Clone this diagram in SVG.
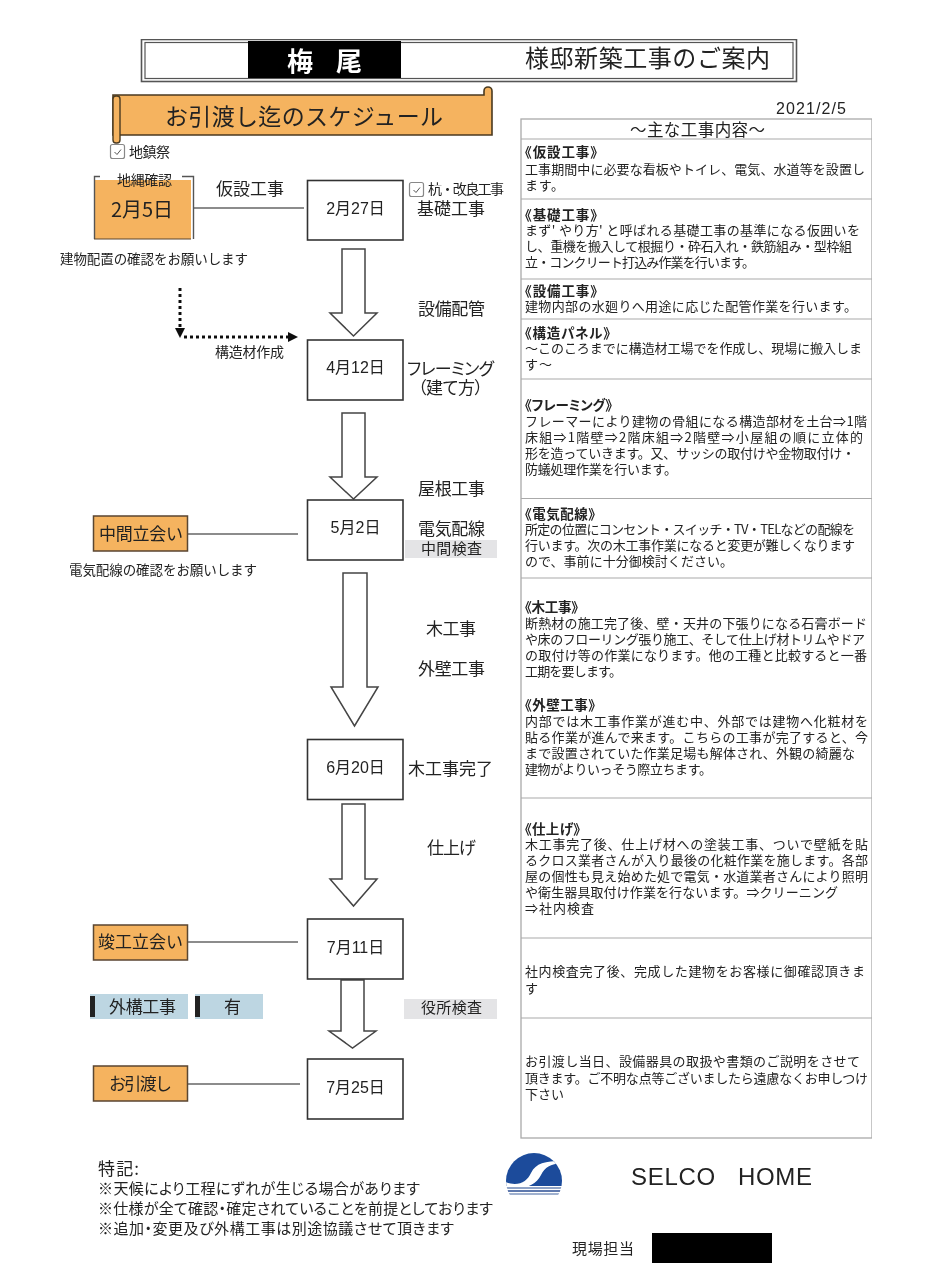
<svg xmlns="http://www.w3.org/2000/svg" width="925" height="1280" viewBox="0 0 925 1280">
<style>
text{font-family:"Noto Sans CJK JP","Noto Sans CJK SC",sans-serif;fill:#222;dominant-baseline:central;transform:translateY(-1.5px)}
.b{font-size:13px}
.h{font-size:13.5px;font-weight:700;font-feature-settings:"palt"}
.l{font-size:17px}
.p{font-size:17px;font-feature-settings:"palt"}
.s{font-size:14px}
.d{font-size:16px;font-family:"Liberation Sans","Noto Sans CJK JP",sans-serif;text-anchor:middle}
.f{font-size:15px;font-feature-settings:"palt"}
.box{fill:#fff;stroke:#333;stroke-width:1.6}
.org{fill:#F5B35E;stroke:#5a4630;stroke-width:1.5}
.arr{fill:#fff;stroke:#444;stroke-width:1.5}
.ln{stroke:#666;stroke-width:1.5;fill:none}
.dot{stroke:#111;stroke-width:3;stroke-dasharray:3 3;fill:none}
.row{stroke:#aaa;stroke-width:1.2}
.grey{fill:#E4E4E6}
.blue{fill:#BDD6E2}
.chk{fill:#fff;stroke:#888;stroke-width:1.2}
</style>
<defs>
<marker id="tip" markerWidth="10" markerHeight="10" refX="1" refY="5" orient="auto" markerUnits="userSpaceOnUse"><path d="M0 0L10 5L0 10Z" fill="#111"/></marker>
<filter id="scan" x="0" y="0" width="100%" height="100%"><feGaussianBlur stdDeviation="0.35"/></filter>
<clipPath id="disc"><circle cx="534" cy="1181" r="28"/></clipPath>
</defs>
<rect width="925" height="1280" fill="#fff"/>
<g filter="url(#scan)">
<g id="header">
<rect x="141.500" y="39.500" width="655" height="42" fill="#fff" stroke="#555" stroke-width="1.6"/>
<rect x="145" y="42.500" width="648" height="36" fill="#fff" stroke="#555" stroke-width="1.2"/>
<rect x="248" y="41" width="153" height="37" fill="#000"/>
<text x="287" y="61" font-size="26" font-weight="700" style="fill:#fff" textLength="75">梅 尾</text>
<text x="525" y="58" font-size="24" textLength="245">様邸新築工事のご案内</text>
</g>
<g id="title-scroll">
<path d="M484 95V91a4 4 0 0 1 8 0V135H113V95Z" fill="#F5B35E" stroke="#4a3a20" stroke-width="1.6"/>
<rect x="113" y="96" width="7" height="47" rx="3" fill="#F5B35E" stroke="#4a3a20" stroke-width="1.4"/>
<text x="165" y="116" font-size="23" textLength="278">お引渡し迄のスケジュール</text>
</g>
<text id="date" x="811" y="109.500" class="d" textLength="70">2021/2/5</text>
<g id="check-jichinsai">
<rect class="chk" x="110.500" y="144.500" width="14" height="14" rx="2"/>
<path d="M114.500 152l2.500 2.500 4-5" fill="none" stroke="#555"/>
<text x="129" y="152" class="s" textLength="41">地鎮祭</text>
</g>
<g id="connectors">
<line class="ln" x1="194" y1="208" x2="304" y2="208"/>
<line class="ln" x1="188" y1="534" x2="298" y2="534"/>
<line class="ln" x1="188" y1="942" x2="298" y2="942"/>
<line class="ln" x1="188" y1="1084" x2="300" y2="1084"/>
<polygon class="arr" points="342,249 365,249 365,313 377,313 353.500,336 330,313 342,313"/>
<polygon class="arr" points="342,413 365,413 365,477 377,477 353.500,499 330,477 342,477"/>
<polygon class="arr" points="343,573 367,573 367,687 378,687 354.500,726 331,687 343,687"/>
<polygon class="arr" points="342,804 365,804 365,879 377,879 353.500,906 330,879 342,879"/>
<polygon class="arr" points="341,980 364,980 364,1031 376,1031 352.500,1048 329,1031 341,1031"/>
<path class="dot" d="M180 288V329" marker-end="url(#tip)"/>
<path class="dot" d="M184 337H289" marker-end="url(#tip)"/>
</g>
<g id="node-jinawa">
<rect x="94" y="180" width="97" height="59" fill="#F5B35E"/>
<path d="M100 176.500H94.500V239M182 176.500H193.500V239" fill="none" stroke="#555" stroke-width="1.4"/>
<path d="M94 239H191" stroke="#5a4630" stroke-width="1.2"/>
<text x="117" y="180" class="s" textLength="55">地縄確認</text>
<text x="111" y="210" font-size="20" textLength="62">2月5日</text>
</g>
<text id="note-haichi" x="60" y="259" font-size="13.500" textLength="188">建物配置の確認をお願いします</text>
<text id="label-kasetsu" x="216" y="189" class="l" textLength="68">仮設工事</text>
<g id="node-0227"><rect class="box" x="307.500" y="180.500" width="95.500" height="59.500"/><text x="355.500" y="210" class="d">2月27日</text></g>
<g id="check-kui">
<rect class="chk" x="409.500" y="182.500" width="14" height="14" rx="2"/>
<path d="M413.500 190l2.500 2.500 4-5" fill="none" stroke="#555"/>
<text x="428" y="189" class="s" textLength="76">杭・改良工事</text>
</g>
<text id="label-kiso" x="417" y="209" class="l" textLength="68">基礎工事</text>
<text id="label-setsubi" x="418" y="309" class="l" textLength="67">設備配管</text>
<text id="label-kozo" x="215" y="352" class="s" textLength="69">構造材作成</text>
<g id="node-0412"><rect class="box" x="307.500" y="340" width="95.500" height="60"/><text x="355.500" y="369" class="d">4月12日</text></g>
<text id="label-framing" x="407" y="369" class="p" textLength="87">フレーミング</text>
<text id="label-tatekata" x="418" y="388" class="p" textLength="65">（建て方）</text>
<text id="label-yane" x="418" y="489" class="l" textLength="67">屋根工事</text>
<g id="node-0502"><rect class="box" x="307.500" y="500" width="95.500" height="60"/><text x="355.500" y="529" class="d">5月2日</text></g>
<text id="label-denki" x="418" y="529" class="l" textLength="67">電気配線</text>
<g id="tag-chukan"><rect class="grey" x="405" y="540" width="92" height="18"/><text x="421" y="549" class="f" textLength="61">中間検査</text></g>
<g id="node-chukan"><rect class="org" x="93.500" y="516" width="94" height="35"/><text x="99" y="533.500" class="l" textLength="84">中間立会い</text></g>
<text id="note-denki" x="69" y="570" font-size="13.500" textLength="188">電気配線の確認をお願いします</text>
<text id="label-moku" x="426" y="629" class="l" textLength="50">木工事</text>
<text id="label-gaiheki" x="418" y="669" class="l" textLength="67">外壁工事</text>
<g id="node-0620"><rect class="box" x="307.500" y="739.500" width="95.500" height="60"/><text x="355.500" y="769" class="d">6月20日</text></g>
<text id="label-mokukanryo" x="408" y="769" class="l" textLength="85">木工事完了</text>
<text id="label-shiage" x="427" y="848" class="l" textLength="49">仕上げ</text>
<g id="node-0711"><rect class="box" x="307.500" y="919" width="95.500" height="60"/><text x="355.500" y="949" class="d">7月11日</text></g>
<g id="node-shunko"><rect class="org" x="93.500" y="925" width="94" height="35"/><text x="98" y="942" class="l" textLength="85">竣工立会い</text></g>
<g id="tag-gaiko"><rect class="blue" x="90" y="994" width="98" height="25"/><rect x="90" y="996" width="5" height="21" fill="#222"/><text x="109" y="1007" class="l" textLength="67">外構工事</text></g>
<g id="tag-ari"><rect class="blue" x="195" y="994" width="68" height="25"/><rect x="195" y="996" width="5" height="21" fill="#222"/><text x="224" y="1007" class="l">有</text></g>
<g id="tag-yakusho"><rect class="grey" x="404" y="999" width="93" height="20"/><text x="421" y="1008" class="f" textLength="61">役所検査</text></g>
<g id="node-0725"><rect class="box" x="307.500" y="1059" width="95.500" height="60"/><text x="355.500" y="1089" class="d">7月25日</text></g>
<g id="node-hikiwatashi"><rect class="org" x="93.500" y="1066" width="94" height="35"/><text x="109" y="1084" class="l" textLength="63">お引渡し</text></g>
<g id="work-panel">
<rect x="521" y="119" width="351" height="1019" fill="#fff" stroke="#aaa" stroke-width="1.300"/>
<line class="row" x1="521" y1="139" x2="872" y2="139"/>
<line class="row" x1="521" y1="199" x2="872" y2="199"/>
<line class="row" x1="521" y1="279" x2="872" y2="279"/>
<line class="row" x1="521" y1="319" x2="872" y2="319"/>
<line class="row" x1="521" y1="379" x2="872" y2="379"/>
<line class="row" x1="521" y1="498.500" x2="872" y2="498.500"/>
<line class="row" x1="521" y1="578" x2="872" y2="578"/>
<line class="row" x1="521" y1="798" x2="872" y2="798"/>
<line class="row" x1="521" y1="938" x2="872" y2="938"/>
<line class="row" x1="521" y1="1018" x2="872" y2="1018"/>
<text x="630" y="130" font-size="16.500" textLength="135">〜主な工事内容〜</text>
<text x="525" y="152" class="h" textLength="72">《仮設工事》</text>
<text x="525" y="170" class="b" textLength="340">工事期間中に必要な看板やトイレ、電気、水道等を設置し</text>
<text x="525" y="186" class="b" textLength="39">ます。</text>
<text x="525" y="215" class="h" textLength="72">《基礎工事》</text>
<text x="525" y="231" class="b" textLength="335">まず' やり方' と呼ばれる基礎工事の基準になる仮囲いを</text>
<text x="525" y="247" class="b" textLength="327">し、重機を搬入して根掘り・砕石入れ・鉄筋組み・型枠組</text>
<text x="525" y="263" class="b" textLength="230">立・コンクリート打込み作業を行います。</text>
<text x="525" y="291" class="h" textLength="72">《設備工事》</text>
<text x="525" y="307" class="b" textLength="332">建物内部の水廻りへ用途に応じた配管作業を行います。</text>
<text x="525" y="333" class="h" textLength="85">《構造パネル》</text>
<text x="525" y="349" class="b" textLength="337">〜このころまでに構造材工場でを作成し、現場に搬入しま</text>
<text x="525" y="365" class="b" textLength="27">す〜</text>
<text x="525" y="405" class="h" textLength="87">《フレーミング》</text>
<text x="525" y="422" class="b" textLength="342">フレーマーにより建物の骨組になる構造部材を土台⇒1階</text>
<text x="525" y="438" class="b" textLength="338">床組⇒1階壁⇒2階床組⇒2階壁⇒小屋組の順に立体的</text>
<text x="525" y="454" class="b" textLength="330">形を造っていきます。又、サッシの取付けや金物取付け・</text>
<text x="525" y="470" class="b" textLength="152">防蟻処理作業を行います。</text>
<text x="525" y="514" class="h" textLength="70">《電気配線》</text>
<text x="525" y="530" class="b" textLength="330">所定の位置にコンセント・スイッチ・TV・TELなどの配線を</text>
<text x="525" y="546" class="b" textLength="330">行います。次の木工事作業になると変更が難しくなります</text>
<text x="525" y="562" class="b" textLength="208">ので、事前に十分御検討ください。</text>
<text x="525" y="607" class="h" textLength="53">《木工事》</text>
<text x="525" y="624" class="b" textLength="342">断熱材の施工完了後、壁・天井の下張りになる石膏ボード</text>
<text x="525" y="640" class="b" textLength="340">や床のフローリング張り施工、そして仕上げ材トリムやドア</text>
<text x="525" y="656" class="b" textLength="342">の取付け等の作業になります。他の工種と比較すると一番</text>
<text x="525" y="672" class="b" textLength="97">工期を要します。</text>
<text x="525" y="705" class="h" textLength="70">《外壁工事》</text>
<text x="525" y="722" class="b" textLength="343">内部では木工事作業が進む中、外部では建物へ化粧材を</text>
<text x="525" y="738" class="b" textLength="343">貼る作業が進んで来ます。こちらの工事が完了すると、今</text>
<text x="525" y="754" class="b" textLength="330">まで設置されていた作業足場も解体され、外観の綺麗な</text>
<text x="525" y="770" class="b" textLength="187">建物がよりいっそう際立ちます。</text>
<text x="525" y="829" class="h" textLength="55">《仕上げ》</text>
<text x="525" y="845" class="b" textLength="343">木工事完了後、仕上げ材への塗装工事、ついで壁紙を貼</text>
<text x="525" y="861" class="b" textLength="343">るクロス業者さんが入り最後の化粧作業を施します。各部</text>
<text x="525" y="877" class="b" textLength="343">屋の個性も見え始めた処で電気・水道業者さんにより照明</text>
<text x="525" y="893" class="b" textLength="313">や衛生器具取付け作業を行ないます。⇒クリーニング</text>
<text x="525" y="909" class="b" textLength="69">⇒社内検査</text>
<text x="525" y="972" class="b" textLength="340">社内検査完了後、完成した建物をお客様に御確認頂きま</text>
<text x="525" y="989" class="b">す</text>
<text x="525" y="1062" class="b" textLength="335">お引渡し当日、設備器具の取扱や書類のご説明をさせて</text>
<text x="525" y="1079" class="b" textLength="343">頂きます。ご不明な点等ございましたら遠慮なくお申しつけ</text>
<text x="525" y="1095" class="b">下さい</text>
</g>
<g id="notes">
<text x="98" y="1169" class="p" textLength="41">特記:</text>
<text x="98" y="1189" class="f" textLength="322">※天候により工程にずれが生じる場合があります</text>
<text x="98" y="1209" class="f" textLength="395">※仕様が全て確認・確定されていることを前提としております</text>
<text x="98" y="1229" class="f" textLength="356">※追加・変更及び外構工事は別途協議させて頂きます</text>
</g>
<g id="logo">
<g clip-path="url(#disc)">
<rect x="505" y="1150" width="58" height="36" fill="#1B4C9B"/>
<path d="M505 1182C518 1187 527 1182 531 1173C536 1163 545 1161 562 1161L562 1163C550 1164 545 1167 541 1175C535 1187 520 1191 505 1186Z" fill="#fff"/>
<rect x="505" y="1187" width="58" height="2" fill="#8FA3C6"/>
<rect x="505" y="1190" width="58" height="2" fill="#5E79AE"/>
<rect x="505" y="1193" width="58" height="2" fill="#9FB0CE"/>
</g>
</g>
<text id="brand" x="631" y="1178" font-size="24" textLength="181" xml:space="preserve" style="font-family:'Liberation Sans',sans-serif">SELCO   HOME</text>
<g id="tanto">
<text x="572" y="1249" class="f" textLength="62">現場担当</text>
<rect x="652" y="1233" width="120" height="30" fill="#000"/>
</g>
</g>
</svg>
